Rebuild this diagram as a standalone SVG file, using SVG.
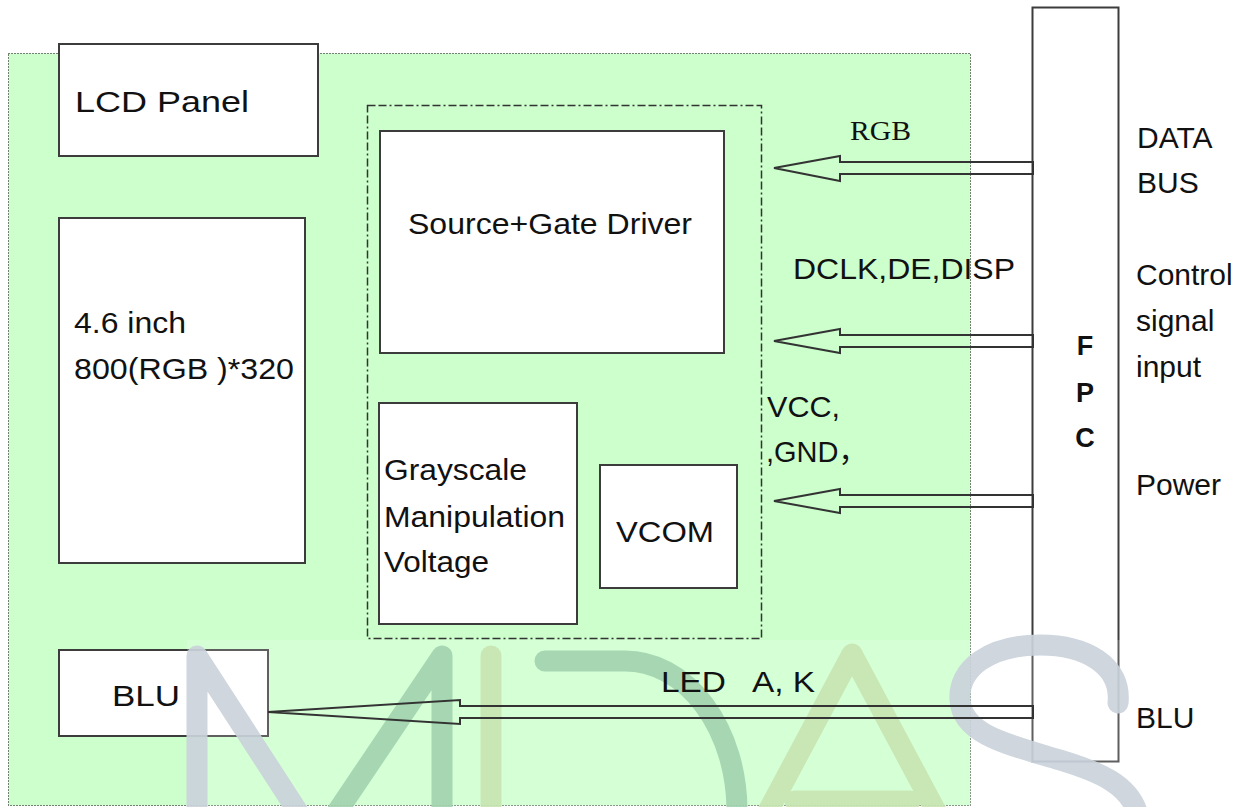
<svg xmlns="http://www.w3.org/2000/svg" width="1247" height="807" viewBox="0 0 1247 807">
<style>
.box{fill:#fff;stroke:#3c3c3c;stroke-width:2}
.t{font-family:"Liberation Sans",Arial,sans-serif;fill:#111;font-size:29px}
.r{font-size:30px}
.serif{font-family:"Liberation Serif","Times New Roman",serif;fill:#111;font-size:27px}
.b{font-weight:bold;font-size:27px}
.arr{fill:none;stroke:#333;stroke-width:2;stroke-linejoin:miter}
.wm{fill:none;stroke-width:21;stroke-linecap:round;stroke-linejoin:round}
</style>
<rect width="1247" height="807" fill="#fff"/>
<g id="board">
<rect x="8.5" y="53.5" width="962" height="752" fill="#ccffcc" stroke="#000" stroke-width="1" stroke-dasharray="1 2"/>
</g>
<g id="ic-area">
<rect x="367.5" y="105.5" width="394" height="533" fill="none" stroke="#333" stroke-width="1.5" stroke-dasharray="8 3 8 3 2 3"/>
</g>
<g id="lcd-panel"><rect class="box" x="59" y="44" width="259" height="112"/><text class="t" x="75" y="112" font-size="35" textLength="174" lengthAdjust="spacingAndGlyphs">LCD Panel</text></g>
<g id="panel-spec"><rect class="box" x="59" y="218" width="246" height="345"/><text class="t" x="74" y="333" textLength="112" lengthAdjust="spacingAndGlyphs">4.6 inch</text><text class="t" x="74" y="379" textLength="220" lengthAdjust="spacingAndGlyphs">800(RGB )*320</text></g>
<g id="driver"><rect class="box" x="380" y="131" width="344" height="222"/><text class="t" x="408" y="234" font-size="30" textLength="284" lengthAdjust="spacingAndGlyphs">Source+Gate Driver</text></g>
<g id="grayscale"><rect class="box" x="379" y="403" width="198" height="221"/><text class="t" x="384" y="480" textLength="143" lengthAdjust="spacingAndGlyphs">Grayscale</text><text class="t" x="384" y="527" textLength="181" lengthAdjust="spacingAndGlyphs">Manipulation</text><text class="t" x="384" y="572" textLength="105" lengthAdjust="spacingAndGlyphs">Voltage</text></g>
<g id="vcom"><rect class="box" x="600" y="465" width="137" height="123"/><text class="t" x="616" y="542" textLength="98" lengthAdjust="spacingAndGlyphs">VCOM</text></g>
<g id="blu-box"><rect class="box" x="59" y="650" width="209" height="86"/><text class="t" x="112" y="706" font-size="34" textLength="68" lengthAdjust="spacingAndGlyphs">BLU</text></g>
<g id="fpc"><rect x="1032.5" y="7.5" width="86" height="754" fill="#fff" stroke="#3c3c3c" stroke-width="2"/><text class="t b" x="1085" y="355" text-anchor="middle">F</text><text class="t b" x="1085" y="402" text-anchor="middle">P</text><text class="t b" x="1085" y="447" text-anchor="middle">C</text></g>
<g id="watermark" opacity="0.92">
<rect x="187" y="640" width="1060" height="167" fill="#fff" opacity="0.2"/>
<path class="wm" stroke="#cbd3dc" d="M197,815 L197,656 L300,815"/>
<path class="wm" stroke="#a3d4b0" d="M335,815 L442,656 L442,815"/>
<path class="wm" stroke="#c9e6b3" d="M491,656 L491,815"/>
<path class="wm" stroke="#a3d4b0" d="M545,661 L625,661 A112,150 0 0 1 737,811"/>
<path class="wm" stroke="#c9e6b3" d="M766,815 L852,654 L938,815 M795,801 L910,801"/>
<path class="wm" stroke="#cbd3dc" d="M1118,703 C1122,665 1085,645 1040,645 C990,645 958,668 960,700 C962,735 1010,745 1060,760 C1100,772 1130,785 1138,815"/>
</g>
<g id="connectors">
<polygon class="arr" points="774,168 840,156 840,162 1033,162 1033,174 840,174 840,181"/>
<polygon class="arr" points="774,341 840,329 840,335 1033,335 1033,347 840,347 840,353"/>
<polygon class="arr" points="774,501 840,489 840,495 1033,495 1033,507 840,507 840,513"/>
<polygon class="arr" stroke-width="1.8" points="268,712 460,700 460,706 1033,706 1033,718 460,718 460,724"/>
</g>
<g id="labels">
<text class="serif" x="850" y="140" textLength="61" lengthAdjust="spacingAndGlyphs">RGB</text>
<text class="t" x="793" y="279" textLength="222" lengthAdjust="spacingAndGlyphs">DCLK,DE,DISP</text>
<text class="t" x="767" y="417" textLength="73" lengthAdjust="spacingAndGlyphs">VCC,</text>
<text class="t" x="766" y="462" font-size="30" style="font-family:'Liberation Sans','Noto Sans CJK SC',sans-serif">,GND，</text>
<text class="t" x="661" y="692" xml:space="preserve" textLength="154" lengthAdjust="spacingAndGlyphs">LED   A, K</text>
<text class="t r" x="1137" y="148">DATA</text>
<text class="t r" x="1137" y="193">BUS</text>
<text class="t r" x="1136" y="285">Control</text>
<text class="t r" x="1136" y="331">signal</text>
<text class="t r" x="1136" y="377">input</text>
<text class="t r" x="1136" y="495">Power</text>
<text class="t r" x="1136" y="728">BLU</text>
</g>
</svg>
